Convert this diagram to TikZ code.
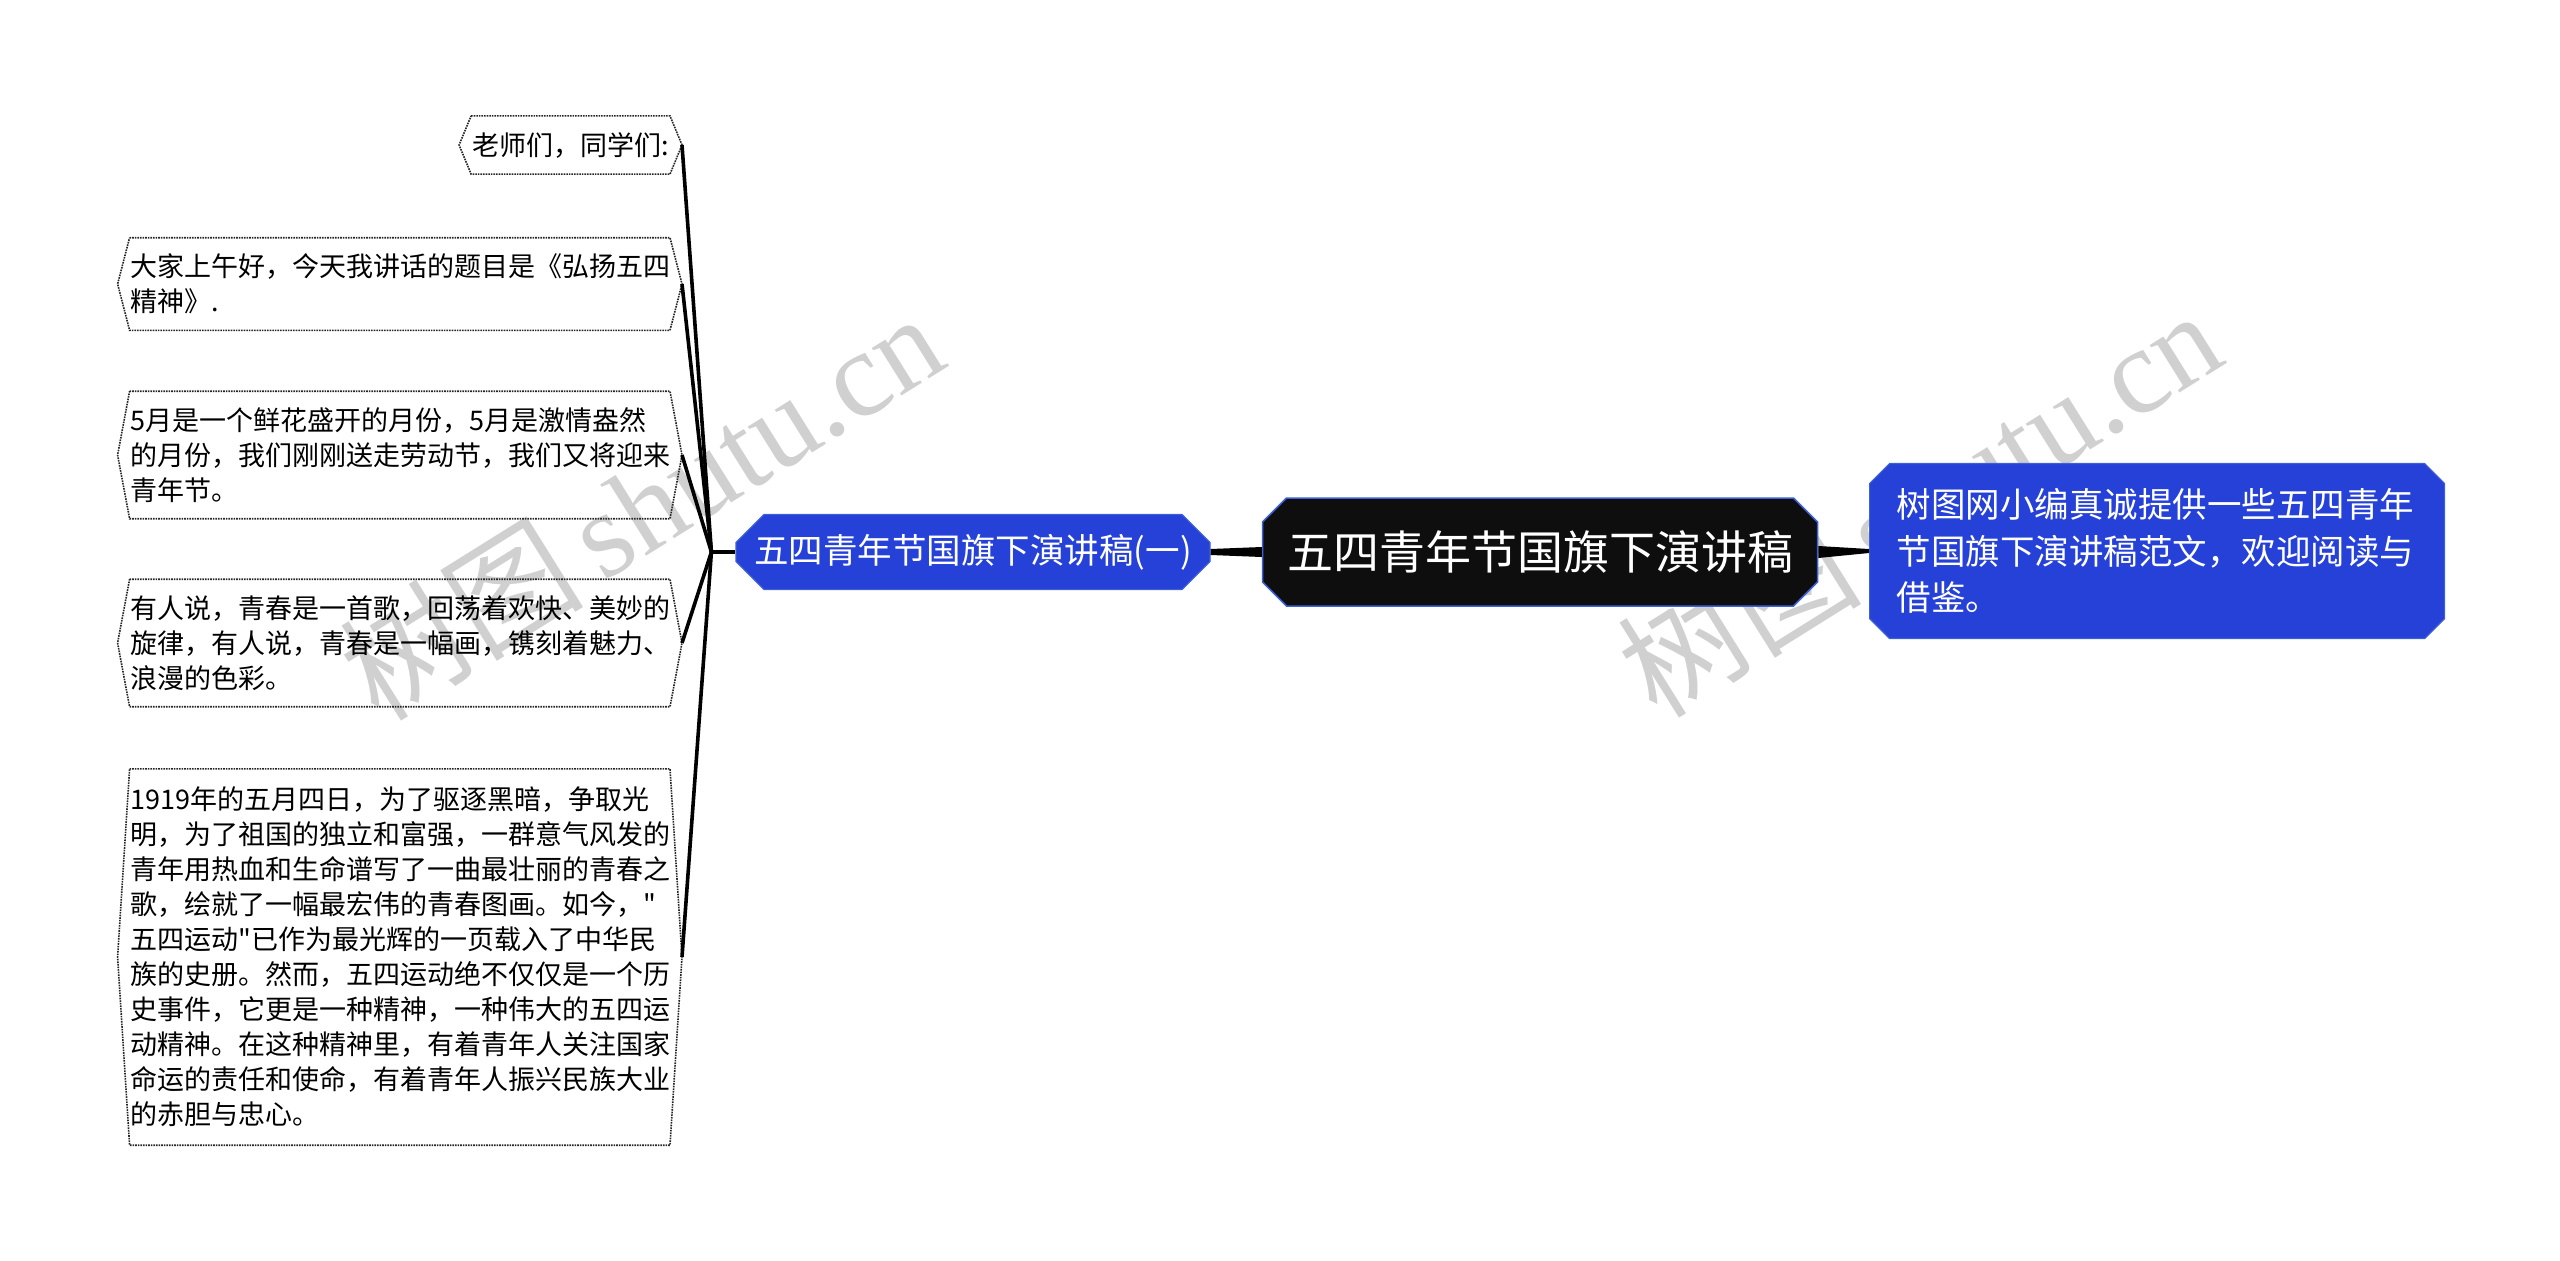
\documentclass[tikz,border=0pt]{standalone}
\usepackage{fontspec}
\setmainfont{Noto Sans CJK SC}
\newfontfamily\cjkfont{Noto Sans CJK SC}
\newfontfamily\wmlatin{Liberation Serif}
\usepackage{tikz}
\usetikzlibrary{shapes.misc}

\definecolor{nodeblue}{RGB}{37,65,216}
\definecolor{edgeblue}{RGB}{62,96,214}
\definecolor{rootblack}{RGB}{14,14,14}
\definecolor{wmgray}{RGB}{208,208,208}

\newcommand{\leaffont}{\cjkfont\fontsize{27pt}{35pt}\selectfont}
\newcommand{\midfont}{\cjkfont\fontsize{34.5pt}{46.5pt}\selectfont}
\newcommand{\rootfont}{\cjkfont\fontsize{46pt}{56pt}\selectfont}

\begin{document}
\begin{tikzpicture}[x=1pt, y=-1pt,
    leaf/.style={font=\leaffont, align=left, inner xsep=13pt, inner ysep=16pt, anchor=east},
    wideleaf/.style={leaf, text width=538pt},
    leafline/.style={densely dotted, line width=1.6pt, black!85},
    link/.style={line width=3.6pt, black},
    taper/.style={fill=black},
    hub/.style={chamfered rectangle, chamfered rectangle xsep=12pt, chamfered rectangle ysep=12pt,
      fill=rootblack, draw=edgeblue, line width=1.5pt, text=white, font=\rootfont,
      minimum width=555pt, minimum height=108pt, inner sep=0pt},
    topic/.style={chamfered rectangle, chamfered rectangle xsep=14pt, chamfered rectangle ysep=14pt,
      fill=nodeblue, draw=edgeblue, line width=1.2pt, text=white, font=\midfont, inner sep=0pt},
    watermark/.style={text=wmgray, rotate=32, inner sep=0pt}]
  \useasboundingbox (0,0) rectangle (2560,1261);

  % watermarks behind everything
  \node[watermark] (wm1) at (641,505) {\fontsize{122pt}{122pt}\cjkfont\selectfont 树图\,\wmlatin shutu.cn};
  \node[watermark] (wm2) at (1919,502) {\fontsize{122pt}{122pt}\cjkfont\selectfont 树图\,\wmlatin shutu.cn};

  % main nodes
  \node[hub] (root) at (1540,552) {五四青年节国旗下演讲稿};
  \node[topic, minimum width=474pt, minimum height=75pt] (speech) at (973,552) {五四青年节国旗下演讲稿(一)};
  \node[topic, chamfered rectangle xsep=10pt, chamfered rectangle ysep=10pt, anchor=west,
    text width=521pt, align=left, inner xsep=17pt, inner ysep=15pt] (intro) at (1869,551)
    {树图网小编真诚提供一些五四青年\\节国旗下演讲稿范文，欢迎阅读与\\借鉴。};

  % leaves
  \node[leaf] (greet) at (682,145) {老师们，同学们:};
  \node[wideleaf] (title) at (682,284) {大家上午好，今天我讲话的题目是《弘扬五四\\精神》.};
  \node[wideleaf] (may) at (682,455) {5月是一个鲜花盛开的月份，5月是激情盎然\\的月份，我们刚刚送走劳动节，我们又将迎来\\青年节。};
  \node[wideleaf] (youth) at (682,643) {有人说，青春是一首歌，回荡着欢快、美妙的\\旋律，有人说，青春是一幅画，镌刻着魅力、\\浪漫的色彩。};
  \node[wideleaf, inner ysep=18pt] (history) at (682,957) {1919年的五月四日，为了驱逐黑暗，争取光\\明，为了祖国的独立和富强，一群意气风发的\\青年用热血和生命谱写了一曲最壮丽的青春之\\歌，绘就了一幅最宏伟的青春图画。如今，"\\五四运动"已作为最光辉的一页载入了中华民\\族的史册。然而，五四运动绝不仅仅是一个历\\史事件，它更是一种精神，一种伟大的五四运\\动精神。在这种精神里，有着青年人关注国家\\命运的责任和使命，有着青年人振兴民族大业\\的赤胆与忠心。};

  \foreach \n in {greet,title,may,youth,history}
    \draw[leafline] ([xshift=12pt]\n.north west) -- ([xshift=-12pt]\n.north east) -- (\n.east)
      -- ([xshift=-12pt]\n.south east) -- ([xshift=12pt]\n.south west) -- (\n.west) -- cycle;

  % connectors
  \coordinate (fork) at ([xshift=-24pt]speech.west);
  \foreach \n in {greet,title,may,youth,history}
    \draw[link] (\n.east) -- (fork);
  \draw[link] (fork) -- (speech.west);

  \fill[taper] ([yshift=-5pt]root.west) -- ([yshift=-3pt]speech.east)
    -- ([yshift=3pt]speech.east) -- ([yshift=5pt]root.west) -- cycle;
  \fill[taper] ([yshift=-6pt]root.east) -- ([yshift=-2pt]intro.west)
    -- ([yshift=2pt]intro.west) -- ([yshift=6pt]root.east) -- cycle;
\end{tikzpicture}
\end{document}
